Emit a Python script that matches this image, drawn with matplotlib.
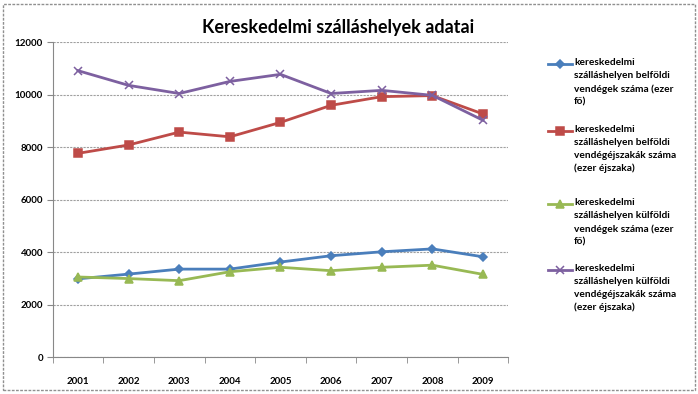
import matplotlib
matplotlib.use('Agg')
import matplotlib.pyplot as plt
from matplotlib.patches import Rectangle
from matplotlib.lines import Line2D

plt.rcParams['font.family'] = ['Lato', 'DejaVu Sans']

# Data
years = ['2001', '2002', '2003', '2004', '2005', '2006', '2007', '2008', '2009']
belfoldi_vendegek = [2990, 3170, 3360, 3360, 3630, 3870, 4020, 4130, 3830]
belfoldi_ejszakak = [7770, 8090, 8580, 8400, 8950, 9600, 9930, 9970, 9270]
kulfoldi_vendegek = [3060, 3000, 2920, 3260, 3430, 3300, 3430, 3510, 3160]
kulfoldi_ejszakak = [10920, 10360, 10050, 10510, 10780, 10050, 10170, 9980, 9030]

labels = [
    'kereskedelmi\nszálláshelyen belföldi\nvendégek száma (ezer\nfő)',
    'kereskedelmi\nszálláshelyen belföldi\nvendégéjszakák száma\n(ezer éjszaka)',
    'kereskedelmi\nszálláshelyen külföldi\nvendégek száma (ezer\nfő)',
    'kereskedelmi\nszálláshelyen külföldi\nvendégéjszakák száma\n(ezer éjszaka)',
]
title = 'Kereskedelmi szálláshelyek adatai'

series = [belfoldi_vendegek, belfoldi_ejszakak, kulfoldi_vendegek, kulfoldi_ejszakak]
colors = ['#4A7EBB', '#BE4B48', '#98B954', '#7D60A0']
markers = ['D', 's', '^', 'x']
msizes = [4.5, 5.5, 5.5, 5.5]

fig = plt.figure(figsize=(6.98, 3.94), dpi=100)
ax = fig.add_axes([0.0755, 0.0931, 0.6527, 0.7995])

x = list(range(len(years)))
for vals, c, m, ms in zip(series, colors, markers, msizes):
    ax.plot(x, vals, color=c, marker=m, markersize=ms, linewidth=2,
            markeredgecolor=c, markeredgewidth=1.1)

ax.set_xlim(-0.5, len(years) - 0.5)
ax.set_ylim(0, 12000)
ax.set_yticks(range(0, 12001, 2000))
ax.set_xticks(x)
ax.set_xticklabels(years)
ax.set_xticks([i - 0.5 for i in range(len(years) + 1)], minor=True)
ax.tick_params(axis='x', which='major', length=0, pad=14)
ax.tick_params(axis='x', which='minor', length=4, color='#888888')
ax.tick_params(axis='y', length=4, color='#888888', pad=3)
for lab in ax.get_xticklabels() + ax.get_yticklabels():
    lab.set_fontsize(7)
    lab.set_fontweight('bold')

ax.grid(axis='y', color='#A0A0A0', linestyle=(0, (2, 1)), linewidth=0.8)
ax.set_axisbelow(True)
for s in ['top', 'right']:
    ax.spines[s].set_visible(False)
for s in ['left', 'bottom']:
    ax.spines[s].set_color('#888888')
    ax.spines[s].set_linewidth(0.8)

fig.text(338 / 698, 1 - 28 / 394, title, ha='center', va='center',
         fontsize=13, fontweight='bold')

# legend drawn by hand so the key sits beside the first text line
W, H = 698, 394
entry_y = [64, 131, 204, 270]
for y, lab, c, m, ms in zip(entry_y, labels, colors, markers, msizes):
    fig.add_artist(Line2D([548 / W, 572 / W], [1 - y / H, 1 - y / H], color=c,
                          linewidth=2, transform=fig.transFigure))
    fig.add_artist(Line2D([560 / W], [1 - y / H], color=c, marker=m, markersize=ms,
                          markeredgecolor=c, markeredgewidth=1.1,
                          transform=fig.transFigure))
    fig.text(574 / W, 1 - (y - 6) / H, lab, ha='left', va='top', fontsize=7.3,
             fontweight='bold', linespacing=1.55)

fig.patches.append(Rectangle((0.005, 0.01), 0.99, 0.98, transform=fig.transFigure,
                             fill=False, edgecolor='#909090', linewidth=1,
                             linestyle=(0, (2, 1))))

fig.savefig('out.png', dpi=100)
